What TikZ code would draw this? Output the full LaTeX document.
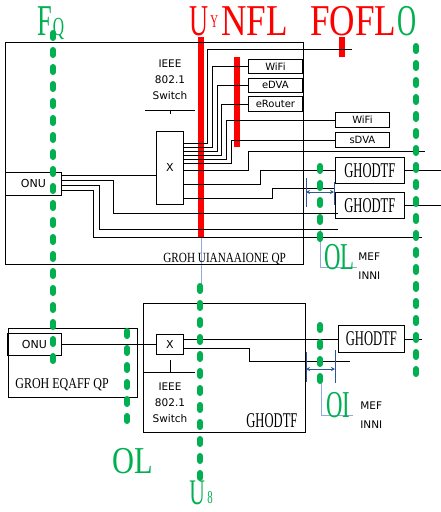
\documentclass[tikz,border=0pt]{standalone}
\usepackage{fontspec}
\setsansfont{DejaVu Sans}
\newfontfamily\garb[FakeStretch=0.6]{Liberation Serif}
\newfontfamily\garbw[FakeStretch=0.8]{Liberation Serif}
\usetikzlibrary{arrows.meta,positioning}

\definecolor{mkgreen}{RGB}{0,176,80}
\definecolor{mkred}{RGB}{255,0,0}
\definecolor{dimblue}{RGB}{47,85,151}
\definecolor{leadblue}{RGB}{143,170,220}

\begin{document}
\begin{tikzpicture}[x=1pt, y=-1pt, line width=0.8pt,
    box/.style={rectangle, draw, line width=0.8pt, inner sep=0pt, anchor=north west, font=\sffamily\fontsize{10}{12}\selectfont},
    frame/.style={rectangle, draw, line width=1.3pt, inner sep=0pt, anchor=north west},
    gdash/.style={mkgreen, line width=6pt, line cap=round, dash pattern=on 5pt off 12pt},
    redbar/.style={mkred, line width=6.5pt},
    lead/.style={leadblue, line width=0.9pt},
    dim/.style={dimblue, line width=0.8pt},
    tag/.style={inner sep=0pt, anchor=base west},
    sw/.style={align=center, inner sep=0pt, font=\sffamily\fontsize{10.5}{16}\selectfont},
    mef/.style={align=left, inner sep=0pt, anchor=north west, font=\sffamily\fontsize{10.5}{19}\selectfont}]
    \useasboundingbox (0,0) rectangle (441,512);

    % red markers
    \draw[redbar] (201,37) -- (201,238);
    \draw[redbar] (237,57) -- (237,147);
    \draw[redbar] (342,37) -- (342,57);
    \draw[lead] (201,238) -- (201,292);

    % upper group
    \node[frame, minimum width=298pt, minimum height=222pt] (grpa) at (5,42) {};
    \node[box, minimum width=56pt, minimum height=23pt, font=\sffamily\fontsize{11}{12}\selectfont] (onua) at (5,172) {ONU};
    \node[box, minimum width=27pt, minimum height=73pt, font=\sffamily\fontsize{11}{12}\selectfont] (swa) at (156,131) {X};
    \node[sw] (ieeea) at (170,80) {IEEE\\802.1\\Switch};
    \draw (145,110) -- (195,110);
    \draw (170,110) -- (170,114);
    \node[box, minimum width=54pt, minimum height=14pt] (wifia) at (248,59) {WiFi};
    \node[box, minimum width=54pt, minimum height=14pt] (edva) at (248,78) {eDVA};
    \node[box, minimum width=54pt, minimum height=15pt] (erouter) at (248,96) {eRouter};
    \node[box, minimum width=54pt, minimum height=15pt] (wifib) at (335,112) {WiFi};
    \node[box, minimum width=54pt, minimum height=15pt] (sdva) at (335,132) {sDVA};
    \node[box, minimum width=69pt, minimum height=26pt, font=\garb\fontsize{21}{21}\selectfont] (deva) at (335,157) {GHODTF};
    \node[box, minimum width=69pt, minimum height=26pt, font=\garb\fontsize{21}{21}\selectfont] (devb) at (335,192) {GHODTF};
    \node[tag, font=\garbw\fontsize{14}{14}\selectfont] (grpalbl) at (163,262) {GROH UIANAAIONE QP};

    \coordinate (tapa) at (352,49);
    \coordinate (tapb) at (425,151);
    \coordinate (tapc) at (335,188);
    \coordinate (tapd) at (338,213);
    \coordinate (tape) at (338,229);
    \coordinate (tapf) at (422,237);
    \coordinate (rim) at (441,0);

    \draw (swa.east |- 0,143) -- (207,143) |- (tapa);
    \draw (swa.east |- 0,147) -- (212,147) |- (wifia.west);
    \draw (swa.east |- 0,151) -- (217,151) |- (edva.west);
    \draw (swa.east |- 0,155) -- (221,155) |- (erouter.west);
    \draw (swa.east |- 0,159) -- (226,159) |- (wifib.west);
    \draw (swa.east |- 0,163) -- (231,163) |- (sdva.west);
    \draw (swa.east |- 0,170) -- (248,170) |- (tapb);
    \draw (swa.east |- 0,184) -- (260,184) |- (deva.west);
    \draw (swa.east |- 0,198) -- (272,198) |- (tapc);

    \draw (onua.east |- 0,175) -- (swa.west |- 0,175);
    \draw (onua.east |- 0,180) -- (113,180) |- (tapd);
    \draw (onua.east |- 0,185) -- (99,185) |- (tape);
    \draw (onua.east |- 0,190) -- (93,190) |- (tapf);

    \draw (deva.east) -- (deva.east -| rim);
    \draw (devb.east) -- (devb.east -| rim);

    % lower group
    \node[box, minimum width=129pt, minimum height=69pt] (grpb) at (8,328) {};
    \node[box, minimum width=54pt, minimum height=22pt, font=\sffamily\fontsize{11}{12}\selectfont] (onub) at (7,333) {ONU};
    \node[tag, font=\garbw\fontsize{15}{15}\selectfont] (grpblbl) at (15,388) {GROH EQAFF QP};
    \node[frame, minimum width=162pt, minimum height=129pt] (grpc) at (143,303) {};
    \node[box, minimum width=27pt, minimum height=20pt, font=\sffamily\fontsize{11}{12}\selectfont] (swb) at (156,334) {X};
    \node[sw] (ieeeb) at (170,403) {IEEE\\802.1\\Switch};
    \draw (143,372) -- (195,372);
    \draw (170,360) -- (170,372);
    \node[tag, font=\garb\fontsize{21}{21}\selectfont] (grpclbl) at (246,427) {GHODTF};
    \node[box, minimum width=66pt, minimum height=27pt, font=\garb\fontsize{21}{21}\selectfont] (devc) at (338,325) {GHODTF};

    \coordinate (tapg) at (350,361);
    \coordinate (rimb) at (422,0);

    \draw (onub.east) -- (swb.west);
    \draw (swb.east |- devc.west) -- (devc.west);
    \draw (swb.east |- 0,348) -- (249,348) |- (tapg);
    \draw (devc.east) -- (devc.east -| rimb);

    % spans
    \coordinate (dima) at (306,192);
    \coordinate (dimb) at (334,192);
    \coordinate (dimc) at (306,369);
    \coordinate (dimd) at (335,369);
    \draw[dim] (306,178) -- (306,207);
    \draw[dim] (334,182) -- (334,205);
    \draw[dim] (306,352) -- (306,382);
    \draw[dim] (335,350) -- (335,383);
    \draw[dim, {Stealth[length=4pt,width=4pt]}-{Stealth[length=4pt,width=4pt]}] (dima) -- (dimb);
    \draw[dim, {Stealth[length=4pt,width=4pt]}-{Stealth[length=4pt,width=4pt]}] (dimc) -- (dimd);
    \draw[lead] (320,230) -- (320,267) -- (357,267);
    \draw[lead] (321,382) -- (321,415) -- (353,415);

    % green marks
    \draw[gdash] (53,33) -- (53,366);
    \draw[gdash] (127,331) -- (127,428);
    \draw[gdash] (200,286) -- (200,482);
    \draw[gdash] (320,166) -- (320,245);
    \draw[gdash] (320,325) -- (320,387);
    \draw[gdash] (416,46) -- (416,385);

    % labels
    \node[tag, mkgreen, font=\garb\fontsize{44}{44}\selectfont] (capf) at (37,35) {F};
    \node[tag, mkgreen, font=\garb\fontsize{26}{26}\selectfont] (capq) at (capf.base east) {Q};
    \node[tag, mkred, font=\garb\fontsize{44}{44}\selectfont] (capu) at (189,35) {U};
    \node[tag, mkred, font=\garb\fontsize{18}{18}\selectfont] (capy) at (210,27) {Y};
    \node[tag, mkred, font=\garbw\fontsize{44}{44}\selectfont] (capn) at (221,35) {NFL};
    \node[tag, mkred, font=\garbw\fontsize{44}{44}\selectfont] (capr) at (310,35) {FOFL};
    \node[tag, mkgreen, font=\garb\fontsize{44}{44}\selectfont] (capo) at (capr.base east) {O};

    \node[tag, mkgreen, font=\garbw\fontsize{38}{38}\selectfont] (botol) at (112,473) {OL};
    \node[tag, mkgreen, font=\garb\fontsize{36}{36}\selectfont] (botu) at (189,504) {U};
    \node[tag, mkgreen, font=\garb\fontsize{18}{18}\selectfont] (bot8) at (207,503) {8};

    \node[tag, mkgreen, font=\garb\fontsize{38}{38}\selectfont] (mefa) at (324,269) {OL};
    \node[mef] (mefatxt) at (358,252) {MEF\\INNI};
    \node[tag, mkgreen, font=\garb\fontsize{38}{38}\selectfont] (mefb) at (326,417) {OI};
    \node[mef] (mefbtxt) at (360,401) {MEF\\INNI};
\end{tikzpicture}
\end{document}
